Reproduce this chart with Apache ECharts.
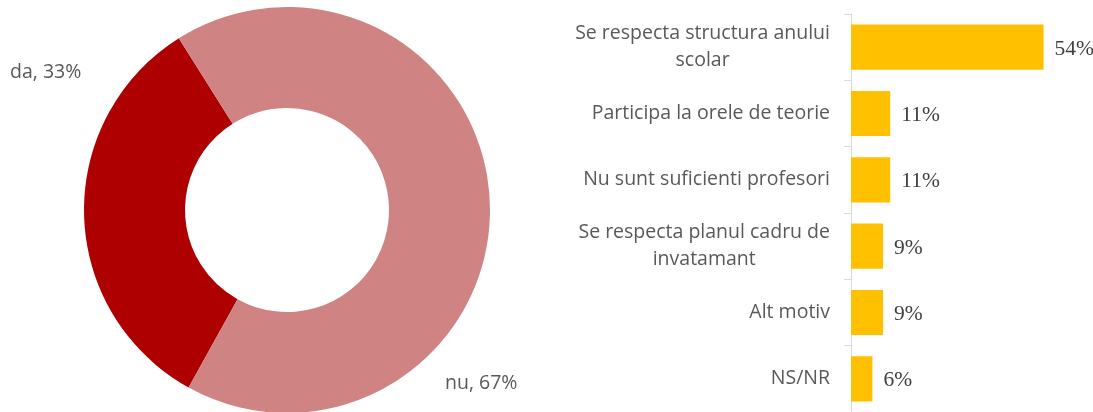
<!DOCTYPE html>
<html>
<head>
<meta charset="utf-8">
<style>
  html, body { margin: 0; padding: 0; background: #fff; }
  #chart { width: 1093px; height: 412px; }
</style>
<script src="https://cdn.jsdelivr.net/npm/echarts@6/dist/echarts.min.js"></script>
</head>
<body>
<div id="chart"></div>
<script>
// donut data
var pieNames = ['da', 'nu']
var pieValues = [33, 67]

// bar data
var barCategories = [
  'Se respecta structura anului\nscolar',
  'Participa la orele de teorie',
  'Nu sunt suficienti profesori',
  'Se respecta planul cadru de\ninvatamant',
  'Alt motiv',
  'NS/NR'
]
var barValues = [54, 11, 11, 9, 9, 6]

var labelFont = '"Open Sans", "Noto Sans", sans-serif'
var labelSize = 19.5
var chart = echarts.init(document.getElementById('chart'))

// where the two donut labels sit (Excel puts them by hand)
var pieLabelPos = [
  { x: 10, y: 72 },
  { x: 445, y: 383 }
]

chart.setOption({
  animation: false,
  grid: {
    left: 851,
    top: 14,
    width: 214,
    height: 406,
    containLabel: false
  },
  xAxis: {
    type: 'value',
    min: 0,
    max: 60,
    show: false
  },
  yAxis: {
    type: 'category',
    inverse: true,
    data: barCategories,
    axisLine: { lineStyle: { color: '#d9d9d9', width: 1 } },
    axisTick: { show: true, length: 7, lineStyle: { color: '#d9d9d9' } },
    axisLabel: {
      margin: 21,
      color: '#595959',
      fontFamily: labelFont,
      fontSize: labelSize,
      lineHeight: 27,
      formatter: function(val) {
        return val.split('\n').map(function(s) { return '{c|' + s + '}' }).join('\n')
      },
      rich: {
        c: {
          align: 'center',
          color: '#595959',
          fontFamily: labelFont,
          fontSize: labelSize,
          lineHeight: 27
        }
      }
    }
  },
  series: [
    {
      type: 'pie',
      center: [287, 210],
      radius: [102, 203],
      startAngle: 241,
      clockwise: true,
      silent: true,
      data: pieNames.map(function(n, i) {
        return { name: n, value: pieValues[i] }
      }),
      color: ['#ae0000', '#d08383'],
      itemStyle: { borderWidth: 0 },
      label: {
        show: true,
        position: 'inside',
        formatter: '{b}, {c}%',
        color: '#595959',
        fontFamily: labelFont,
        fontSize: labelSize
      },
      labelLine: { show: false },
      labelLayout: function(params) {
        var p = pieLabelPos[params.dataIndex]
        return { x: p.x, y: p.y, align: 'left', verticalAlign: 'middle' }
      }
    },
    {
      type: 'bar',
      data: barValues,
      barCategoryGap: '32%',
      itemStyle: { color: '#ffc000' },
      label: {
        show: true,
        position: 'right',
        distance: 11,
        offset: [0, 2],
        formatter: '{c}%',
        color: '#404040',
        fontFamily: '"Liberation Serif", "Times New Roman", serif',
        fontSize: 21.5
      }
    }
  ]
})
</script>
</body>
</html>
